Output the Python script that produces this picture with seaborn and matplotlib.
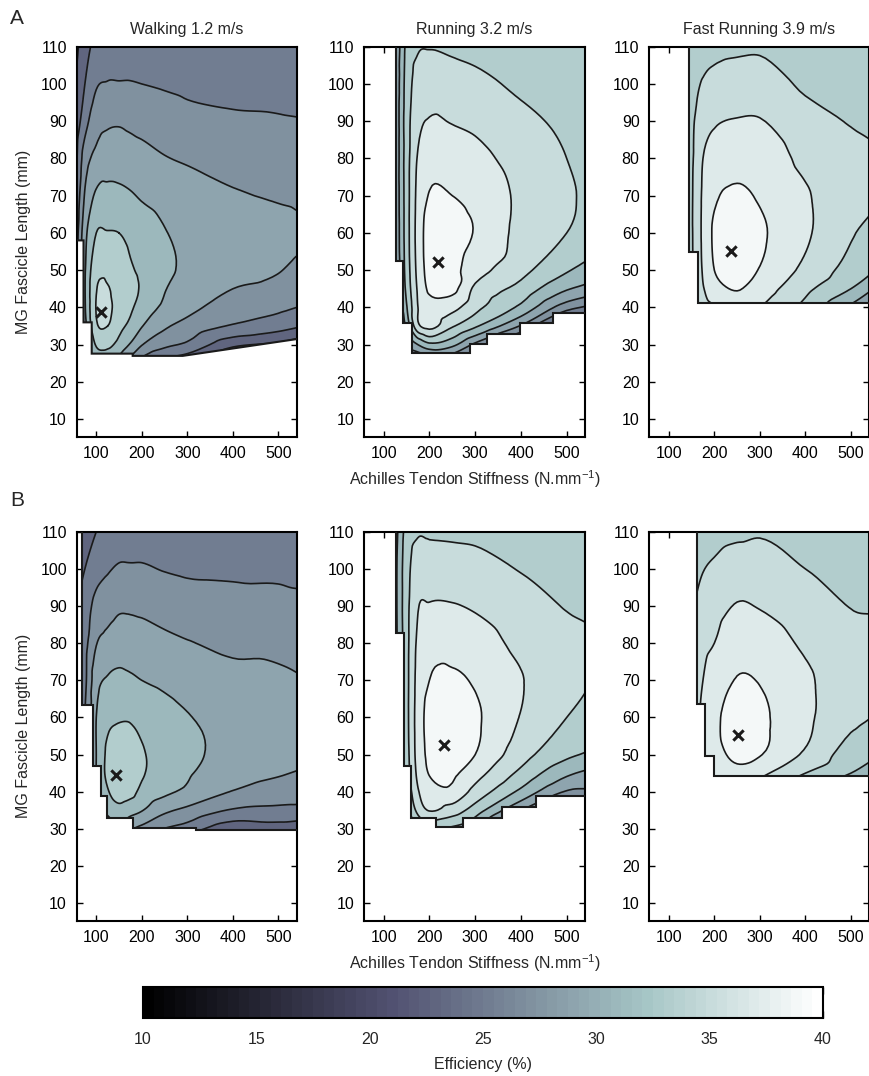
import numpy as np
import matplotlib
matplotlib.use("Agg")
import matplotlib.pyplot as plt
import matplotlib.tri as mtri
from matplotlib.patches import Polygon
from matplotlib.colors import Normalize
from matplotlib.cm import ScalarMappable
import seaborn as sns

# ---------------- data ----------------
stiffness_grid = [50, 75, 100, 125, 150, 175, 200, 250, 300, 400, 500, 550]
fascicle_grid = [25, 30, 35, 40, 45, 50, 60, 70, 80, 90, 100, 110]

# efficiency (%) rows follow fascicle_grid, columns follow stiffness_grid
eff_walk_A = [
    [24, 27, 30, 30, 29, 27, 25, 23, 22, 18, 17, 16],
    [24, 28.5, 32.2, 32.5, 31.3, 29.8, 28.1, 26.5, 25.6, 22.5, 21.5, 20.5],
    [24, 29.3, 33.7, 34.0, 32.6, 31.5, 30.1, 28.3, 27.3, 25.8, 24.8, 24.1],
    [24, 29.8, 34.1, 34.4, 33.2, 32.3, 31.2, 29.6, 28.6, 27.0, 26.4, 25.9],
    [24, 29.9, 33.9, 34.1, 33.3, 32.5, 31.8, 30.1, 29.4, 28.0, 27.4, 26.8],
    [24, 29.8, 33.4, 33.6, 33.0, 32.2, 31.7, 30.4, 29.7, 28.8, 28.1, 27.5],
    [23.5, 29.3, 32.0, 32.1, 32.0, 31.5, 31.0, 30.1, 29.6, 29.2, 28.7, 28.3],
    [23, 28.2, 30.3, 30.6, 30.5, 30.2, 29.8, 29.3, 28.8, 28.2, 27.8, 27.6],
    [22.5, 27.0, 28.5, 29.0, 29.0, 28.8, 28.6, 28.1, 27.8, 27.3, 27.1, 27.0],
    [22, 25.2, 27.2, 27.7, 27.8, 27.6, 27.4, 27.0, 26.6, 26.3, 26.2, 26.1],
    [21.5, 24.0, 25.8, 26.1, 26.1, 26.1, 26.0, 25.8, 25.6, 25.4, 25.2, 25.0],
    [21, 23.2, 24.6, 25.1, 25.2, 25.2, 25.1, 25.0, 24.8, 24.6, 24.5, 24.3],
]
eff_run_A = [
    [12, 15, 18, 20, 24, 25, 25, 25, 22, 17, 12, 12],
    [14, 17, 20.5, 23, 28, 30, 31.5, 30.5, 27.5, 22, 16, 15],
    [15, 18, 22, 25, 30.5, 35.5, 36.6, 34.2, 32.3, 27.8, 21, 20],
    [16, 19, 23, 26.5, 31.8, 36.0, 37.2, 36.6, 34.6, 31.5, 26.8, 25.5],
    [16, 19, 23.5, 27.5, 32.5, 36.3, 38.3, 38.5, 35.6, 33.3, 30.2, 29.2],
    [16, 19, 23.5, 28.0, 32.8, 36.6, 38.7, 38.5, 36.9, 34.6, 32.2, 31.2],
    [16, 19, 23.5, 28.2, 33.0, 36.8, 38.8, 38.6, 37.9, 35.4, 34.0, 33.2],
    [16, 19, 23.5, 28.3, 33.0, 36.6, 38.1, 38.0, 37.5, 35.6, 34.3, 33.6],
    [16, 19, 23.5, 28.3, 33.0, 36.2, 37.2, 37.2, 36.6, 35.2, 34.0, 33.5],
    [16, 19, 23.5, 28.3, 33.0, 35.5, 36.1, 35.9, 35.6, 34.5, 33.6, 33.2],
    [16, 19, 23.5, 28.2, 32.8, 34.8, 35.2, 35.0, 34.6, 33.6, 33.0, 32.8],
    [16, 19, 23.5, 28.0, 32.5, 33.8, 33.9, 33.6, 33.3, 32.6, 32.5, 32.3],
]
eff_fast_A = [
    [24, 24, 24, 24, 25, 27, 28, 30, 28, 22, 18, 16],
    [27, 27, 27, 27, 28, 30, 31, 33, 32, 27, 22, 20],
    [28, 28.5, 29, 29, 30, 32.5, 33.5, 35.5, 34.5, 31, 26, 24],
    [29, 30, 30.5, 31, 32.0, 34.8, 35.8, 37.0, 36.0, 33.3, 29.5, 27.5],
    [29, 30, 31, 31.8, 33.0, 35.8, 37.2, 38.1, 37.0, 34.5, 32.0, 30.0],
    [29, 30, 31, 32.3, 33.6, 36.2, 38.0, 38.7, 37.9, 35.5, 33.2, 32.1],
    [29, 30, 31, 32.5, 33.8, 36.4, 38.3, 38.9, 38.3, 36.3, 34.2, 33.3],
    [29, 30, 31, 32.5, 33.8, 36.3, 37.7, 38.3, 37.8, 36.2, 34.8, 34.3],
    [29, 30, 31, 32.4, 33.7, 36.0, 36.8, 37.3, 37.2, 35.5, 34.6, 34.2],
    [29, 30, 31, 32.3, 33.6, 35.3, 35.8, 36.1, 36.1, 34.7, 33.9, 33.7],
    [29, 30, 31, 32, 33.2, 34.2, 34.7, 35.0, 35.0, 33.7, 33.5, 33.3],
    [29, 30, 31, 31.5, 32.5, 32.8, 33.3, 33.6, 33.7, 33.0, 33.0, 32.8],
]
eff_walk_B = [
    [23, 24, 25, 26, 26, 25, 23, 22, 21, 18, 18, 18],
    [24, 25, 27, 28.5, 29, 28.2, 27.3, 25.9, 25, 22.5, 22.8, 22.5],
    [24.5, 26, 28.5, 30.5, 31.3, 30.7, 30.1, 28.4, 27.5, 25.8, 25.5, 25.4],
    [24.5, 26, 29.5, 31.8, 32.9, 32.6, 31.5, 30.4, 29.6, 27.9, 27.0, 26.7],
    [24.5, 26, 30.0, 32.5, 33.5, 33.0, 32.2, 31.1, 30.2, 29.0, 28.2, 27.8],
    [24.5, 26, 30.0, 32.4, 33.2, 32.9, 32.2, 31.2, 30.4, 29.5, 28.9, 28.6],
    [24.5, 26, 30.0, 31.5, 31.8, 31.8, 31.4, 30.7, 30.1, 29.5, 29.1, 28.8],
    [24.2, 25.6, 29.3, 30.2, 30.5, 30.3, 30.0, 29.6, 29.2, 28.6, 28.3, 28.1],
    [24, 25.4, 27.9, 28.6, 29.0, 28.9, 28.8, 28.4, 28.1, 27.6, 27.6, 27.4],
    [23.5, 25.0, 26.6, 27.2, 27.7, 27.7, 27.6, 27.3, 27.0, 26.8, 26.6, 26.5],
    [22.5, 24.0, 25.2, 25.8, 26.2, 26.2, 26.2, 25.9, 25.7, 25.6, 25.6, 25.4],
    [21.5, 22.8, 24.0, 24.8, 25.1, 25.1, 25.1, 25.0, 24.9, 24.8, 24.7, 24.6],
]
eff_run_B = [
    [12, 16, 20, 21, 26, 27, 27, 27, 26, 18, 14, 14],
    [14, 18, 22, 23.5, 29, 31.5, 32, 31.5, 30, 23, 18, 18],
    [15, 19, 23, 25.5, 31, 34.6, 36.1, 35, 33.0, 28, 23, 23],
    [16, 20, 24, 27, 32.2, 35.8, 37.1, 37.5, 35.3, 31.5, 27.8, 27.5],
    [16, 20, 24, 28, 32.8, 36.5, 38.1, 38.3, 36.8, 33.5, 30.4, 29.5],
    [16, 20, 24, 28.5, 33.1, 36.8, 38.4, 38.8, 38.0, 34.8, 32.4, 31.7],
    [16, 20, 24, 28.8, 33.3, 36.9, 38.6, 38.9, 38.3, 35.9, 34.0, 33.2],
    [16, 20, 24, 29, 33.3, 36.7, 38.0, 38.3, 37.8, 36.1, 34.8, 34.05],
    [16, 20, 24, 29.2, 33.3, 36.4, 37.3, 37.3, 36.9, 35.5, 34.6, 34.2],
    [16, 20, 24, 29.3, 33.3, 35.9, 36.1, 36.1, 35.8, 34.8, 33.9, 33.7],
    [16, 20, 24, 29.3, 33.2, 35.0, 35.1, 35.0, 34.8, 33.9, 33.4, 33.1],
    [16, 20, 24, 29, 32.8, 33.8, 33.7, 33.6, 33.5, 33.0, 32.8, 32.5],
]
eff_fast_B = [
    [24, 24, 25, 26, 26, 26, 26, 27, 26, 20, 18, 18],
    [27, 27, 28, 29, 29, 29, 29, 30, 29, 24, 22, 22],
    [28.5, 29, 30, 31, 31.5, 32, 32, 33, 32, 28, 26, 25],
    [29, 30, 31, 32.5, 33.5, 34, 34.5, 35.8, 34.5, 31.5, 29.5, 28],
    [29, 30, 31.5, 33.3, 34.5, 35.3, 36.2, 37.4, 36.5, 34.0, 32.0, 30.8],
    [29, 30, 32, 33.8, 35, 36.0, 37.2, 38.4, 38.1, 35.7, 33.0, 32.3],
    [29, 30, 32, 34, 35.2, 36.3, 37.5, 38.9, 38.4, 36.4, 34.5, 33.95],
    [29, 30, 32, 33.8, 35, 36.0, 36.9, 38.1, 37.9, 36.3, 35.0, 34.4],
    [29, 30, 31.5, 33.3, 34.5, 35.5, 36.0, 37.2, 37.0, 35.7, 34.8, 34.3],
    [29, 30, 31, 32.8, 33.8, 34.8, 35.3, 36.1, 35.9, 34.9, 33.95, 33.9],
    [29, 30, 31, 32.2, 33.0, 33.9, 34.4, 35.2, 35.0, 34.0, 33.6, 33.5],
    [29, 30, 31, 31.5, 32.0, 32.5, 33.0, 33.5, 33.8, 33.2, 33.2, 33.0],
]

# lower-left limit of the feasible region (stiffness, fascicle length)
limit_walk_A_x = [56, 56, 72, 72, 90, 90, 180, 180, 290, 540]
limit_walk_A_y = [110, 58, 58, 36, 36, 27.6, 27.6, 27.0, 27.0, 31.5]
limit_run_A_x = [127, 127, 142, 142, 162.5, 162.5, 289, 289, 326, 326, 398, 398, 469, 469, 540]
limit_run_A_y = [110, 52.6, 52.6, 35.9, 35.9, 27.7, 27.7, 30.1, 30.1, 33, 33, 35.9, 35.9, 38.6, 38.6]
limit_fast_A_x = [144.5, 144.5, 163, 163, 540]
limit_fast_A_y = [110, 55, 55, 41.3, 41.3]
limit_walk_B_x = [69, 69, 93, 93, 109.5, 109.5, 123.5, 123.5, 181, 181, 320, 320, 540]
limit_walk_B_y = [110, 63.4, 63.4, 46.9, 46.9, 38.8, 38.8, 33, 33, 30.3, 30.3, 29.8, 29.8]
limit_run_B_x = [127, 127, 143.4, 143.4, 160.3, 160.3, 215.4, 215.4, 272.8, 272.8, 358.8, 358.8, 432.4, 432.4, 540]
limit_run_B_y = [110, 82.8, 82.8, 47, 47, 32.9, 32.9, 30.5, 30.5, 32.9, 32.9, 35.8, 35.8, 38.8, 38.8]
limit_fast_B_x = [162, 162, 180.3, 180.3, 200, 200, 540]
limit_fast_B_y = [110, 63.5, 63.5, 49.5, 49.5, 44.3, 44.3]

# optimum (x marker)
optimum_stiffness = [110, 219, 236, 143, 232, 252]
optimum_fascicle = [38.8, 52.3, 55.2, 44.5, 52.7, 55.4]

panel_titles = ["Walking 1.2 m/s", "Running 3.2 m/s", "Fast Running 3.9 m/s"]
row_letters = ["A", "B"]
efficiency_levels = [10, 12, 14, 16, 18, 20, 22, 24, 26, 28, 30, 32, 34, 36, 38, 40]
x_ticks = [100, 200, 300, 400, 500]
y_ticks = [10, 20, 30, 40, 50, 60, 70, 80, 90, 100, 110]
cbar_ticks = [10, 15, 20, 25, 30, 35, 40]

# ---------------- style ----------------
sns.set_theme(style="ticks")
plt.rcParams["font.family"] = ["Liberation Sans", "DejaVu Sans"]
plt.rcParams["mathtext.default"] = "regular"
plt.rcParams["axes.linewidth"] = 1.5
plt.rcParams["axes.edgecolor"] = "black"

FS = 11.5
cmap = plt.get_cmap("bone").resampled(64)
norm = Normalize(vmin=10, vmax=40)

fig = plt.figure(figsize=(8.7, 10.76), dpi=100)
W, H = 870.0, 1076.0
col_lr = [(76.7, 296.5), (364.0, 585.0), (649.3, 869.0)]
row_tb = [(46.7, 436.7), (531.7, 920.7)]

fields = [[eff_walk_A, eff_run_A, eff_fast_A], [eff_walk_B, eff_run_B, eff_fast_B]]
limits = [[(limit_walk_A_x, limit_walk_A_y), (limit_run_A_x, limit_run_A_y), (limit_fast_A_x, limit_fast_A_y)],
          [(limit_walk_B_x, limit_walk_B_y), (limit_run_B_x, limit_run_B_y), (limit_fast_B_x, limit_fast_B_y)]]

gx, gy = np.meshgrid(np.array(stiffness_grid, float), np.array(fascicle_grid, float))
sx, sy = 50.0, 10.0  # scaling for a well-shaped triangulation
base_tri = mtri.Triangulation(gx.ravel() / sx, gy.ravel() / sy)
refiner = mtri.UniformTriRefiner(base_tri)

for r in range(2):
    for c in range(3):
        l, rr = col_lr[c]
        t, b = row_tb[r]
        ax = fig.add_axes([l / W, 1 - b / H, (rr - l) / W, (b - t) / H])
        z = np.array(fields[r][c], float).ravel()
        interp = mtri.CubicTriInterpolator(base_tri, z, kind="geom")
        tri_f, z_f = refiner.refine_field(z, triinterpolator=interp, subdiv=3)
        tri_d = mtri.Triangulation(tri_f.x * sx, tri_f.y * sy, tri_f.triangles)

        fx, fy = limits[r][c]
        verts = list(zip(fx, fy)) + [(560, fy[-1]), (560, 120), (fx[0], 120)]
        clip = Polygon(verts, closed=True, transform=ax.transData, facecolor="none", edgecolor="none")

        cf = ax.tricontourf(tri_d, z_f, levels=efficiency_levels, cmap=cmap, norm=norm)
        cl = ax.tricontour(tri_d, z_f, levels=efficiency_levels, colors="k", linewidths=1.2)
        cf.set_clip_path(clip)
        cl.set_clip_path(clip)
        ax.plot(fx, fy, color="k", lw=1.5, solid_joinstyle="miter", zorder=4)

        k = r * 3 + c
        sns.scatterplot(x=[optimum_stiffness[k]], y=[optimum_fascicle[k]], marker="x", s=55,
                        color="k", linewidth=2.2, ax=ax, legend=False, zorder=6)

        ax.set_xlim(57, 540)
        ax.set_ylim(5.3, 110)
        ax.set_xticks(x_ticks)
        ax.set_yticks(y_ticks)
        ax.tick_params(direction="in", top=True, right=True, length=4, width=1,
                       labelsize=FS, colors="black")
        ax.tick_params(axis="x", pad=7)
        ax.tick_params(axis="y", pad=7)
        for s in ax.spines.values():
            s.set_linewidth(1.5)
            s.set_color("black")
        ax.set_facecolor("white")
        if r == 0:
            ax.set_title(panel_titles[c], fontsize=FS, pad=9)
        if c == 0:
            ax.set_ylabel("MG Fascicle Length (mm)", fontsize=FS, labelpad=7)
        else:
            ax.set_ylabel("")
        if c == 1:
            ax.set_xlabel("Achilles Tendon Stiffness (N.mm$^{-1}$)", fontsize=FS, labelpad=5)
        else:
            ax.set_xlabel("")

fig.text(10 / W, 1 - 18 / H, row_letters[0], fontsize=15, ha="left", va="center")
fig.text(10 / W, 1 - 500 / H, row_letters[1], fontsize=15, ha="left", va="center")

cax = fig.add_axes([143 / W, 1 - 1018 / H, (823 - 143) / W, 31 / H])
sm = ScalarMappable(norm=norm, cmap=cmap)
cb = fig.colorbar(sm, cax=cax, orientation="horizontal", ticks=cbar_ticks)
cb.outline.set_linewidth(1.5)
cb.outline.set_edgecolor("black")
cax.tick_params(direction="in", top=True, bottom=True, length=5, width=1, labelsize=FS, pad=10)
cb.set_label("Efficiency (%)", fontsize=FS, labelpad=7)

fig.savefig("out.png", dpi=100)
